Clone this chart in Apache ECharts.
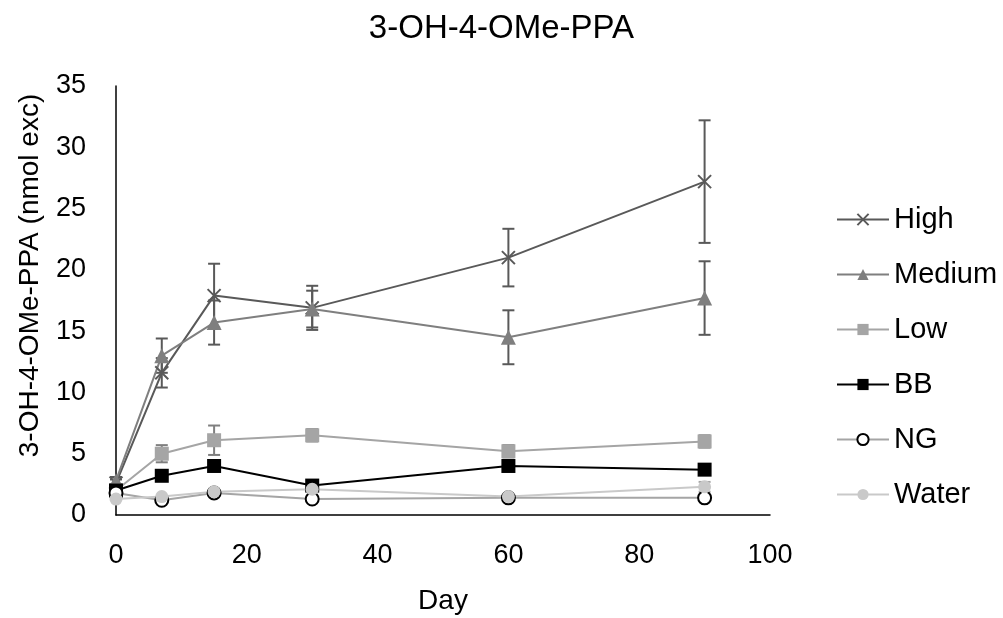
<!DOCTYPE html>
<html>
<head>
<meta charset="utf-8">
<title>3-OH-4-OMe-PPA</title>
<style>
    html, body { margin: 0; padding: 0; background: #fff; }
    #main { width: 1003px; height: 618px; }
</style>
</head>
<body>
<div id="main"></div>
<script src="https://cdn.jsdelivr.net/npm/echarts@6/dist/echarts.min.js"></script>
<script>
    // sampling days
    var days = [0, 7, 15, 30, 60, 90];

    // means
    var high = [2.6, 11.6, 17.9, 16.9, 21.0, 27.2];
    var medium = [2.8, 13.0, 15.7, 16.8, 14.5, 17.7];
    var low = [2.0, 5.0, 6.1, 6.5, 5.2, 6.0];
    var bb = [2.0, 3.2, 4.0, 2.4, 4.0, 3.7];
    var ng = [1.8, 1.2, 1.8, 1.3, 1.4, 1.4];
    var water = [1.3, 1.5, 1.9, 2.1, 1.5, 2.3];

    // error bar half-widths
    var highErr = [0.3, 1.2, 2.6, 1.8, 2.35, 5.0];
    var mediumErr = [0.3, 1.4, 1.8, 1.5, 2.2, 3.0];
    var lowErr = [0.2, 0.7, 1.2, 0.5, 0.5, 0.5];
    var waterErr = [0, 0, 0, 0, 0, 0.4];

    var FONT = 'Liberation Sans';

    function pairs(vals) {
        return days.map(function (d, i) { return [d, vals[i]]; });
    }

    function errorSeries(vals, errs, color) {
        var d = [];
        for (var i = 0; i < days.length; i++) {
            if (errs[i] > 0) d.push([days[i], vals[i] - errs[i], vals[i] + errs[i]]);
        }
        return {
            type: 'custom',
            data: d,
            encode: { x: 0, y: [1, 2] },
            z: 1,
            silent: true,
            renderItem: function (params, api) {
                var top = api.coord([api.value(0), api.value(2)]);
                var bot = api.coord([api.value(0), api.value(1)]);
                var w = 6;
                var st = { stroke: color, lineWidth: 2 };
                return {
                    type: 'group',
                    children: [
                        { type: 'line', shape: { x1: top[0], y1: top[1], x2: bot[0], y2: bot[1] }, style: st },
                        { type: 'line', shape: { x1: top[0] - w, y1: top[1], x2: top[0] + w, y2: top[1] }, style: st },
                        { type: 'line', shape: { x1: bot[0] - w, y1: bot[1], x2: bot[0] + w, y2: bot[1] }, style: st }
                    ]
                };
            }
        };
    }

    function lineSeries(name, vals, lineColor, symbol, size, fill, border) {
        return {
            name: name,
            type: 'line',
            data: pairs(vals),
            z: 3,
            symbol: symbol,
            symbolSize: size,
            showAllSymbol: true,
            lineStyle: { color: lineColor, width: 2 },
            itemStyle: { color: fill, borderColor: border || fill, borderWidth: border ? 2 : 0 },
            emphasis: { disabled: true }
        };
    }

    var chart = echarts.init(document.getElementById('main'));
    chart.setOption({
        backgroundColor: '#ffffff',
        animation: false,
        textStyle: { fontFamily: FONT },
        title: {
            text: '3-OH-4-OMe-PPA',
            left: 'center',
            top: 7,
            textStyle: { fontFamily: FONT, fontSize: 33, fontWeight: 'normal', color: '#000' }
        },
        legend: {
            orient: 'vertical',
            left: 831,
            top: 200,
            itemWidth: 52,
            itemHeight: 14,
            itemGap: 26,
            data: ['High', 'Medium', 'Low', 'BB', 'NG', 'Water'],
            textStyle: { fontFamily: FONT, fontSize: 29, color: '#000' }
        },
        grid: { left: 116, right: 233, top: 86, bottom: 103, outerBoundsMode: 'none' },
        xAxis: {
            type: 'value',
            min: 0,
            max: 100,
            interval: 20,
            name: 'Day',
            nameLocation: 'middle',
            nameGap: 72,
            nameTextStyle: { fontFamily: FONT, fontSize: 28, color: '#000' },
            axisLine: { show: true, onZero: false, lineStyle: { color: '#000', width: 1.5 } },
            axisTick: { show: false },
            splitLine: { show: false },
            axisLabel: { fontFamily: FONT, fontSize: 27, color: '#000', margin: 27 }
        },
        yAxis: {
            type: 'value',
            min: 0,
            max: 35,
            interval: 5,
            name: '3-OH-4-OMe-PPA (nmol exc)',
            nameLocation: 'middle',
            nameGap: 72,
            nameTextStyle: { fontFamily: FONT, fontSize: 28, color: '#000', padding: [0, 0, 0, 50] },
            axisLine: { show: true, lineStyle: { color: '#000', width: 1.5 } },
            axisTick: { show: false },
            splitLine: { show: false },
            axisLabel: { fontFamily: FONT, fontSize: 27, color: '#000', margin: 30 }
        },
        series: [
            errorSeries(high, highErr, '#595959'),
            errorSeries(medium, mediumErr, '#595959'),
            errorSeries(low, lowErr, '#7f7f7f'),
            errorSeries(water, waterErr, '#a5a5a5'),
            lineSeries('High', high, '#595959', 'path://M0,0L10,10M0,10L10,0', 13, '#595959', '#595959'),
            lineSeries('Medium', medium, '#7f7f7f', 'triangle', 15, '#7f7f7f'),
            lineSeries('Low', low, '#a5a5a5', 'rect', 14, '#a5a5a5'),
            lineSeries('BB', bb, '#000000', 'rect', 14, '#000000'),
            lineSeries('NG', ng, '#a5a5a5', 'circle', 13, '#ffffff', '#000000'),
            lineSeries('Water', water, '#c9c9c9', 'circle', 13, '#c9c9c9')
        ]
    });
</script>
</body>
</html>
